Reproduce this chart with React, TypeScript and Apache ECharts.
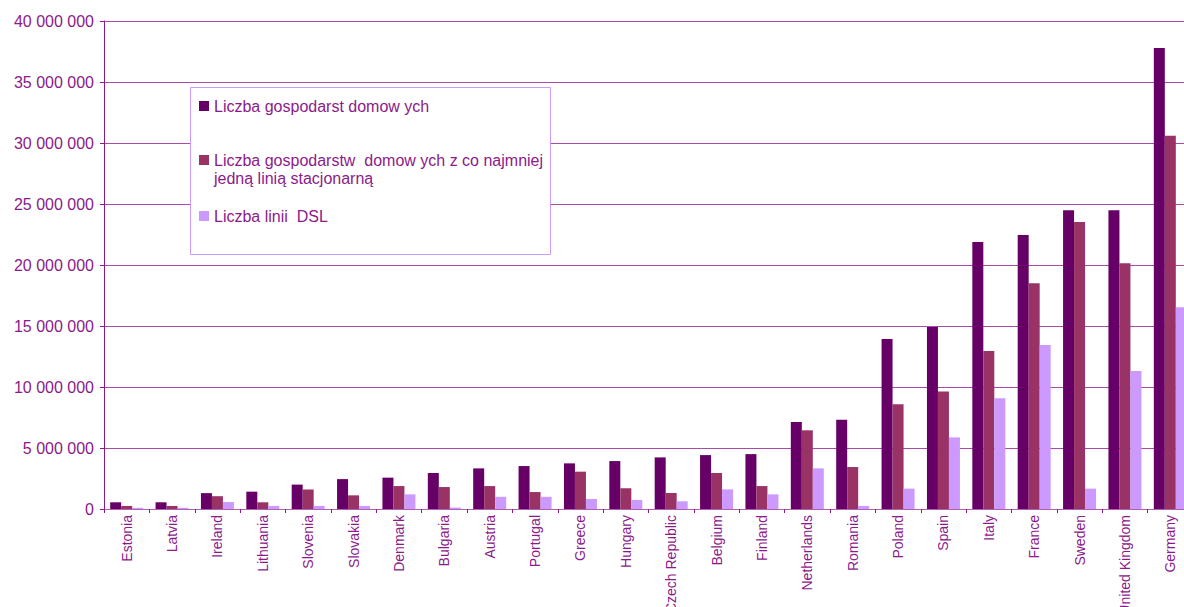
import React, { useEffect, useRef } from "react";
import * as echarts from "echarts";

const countries = [
  "Estonia", "Latvia", "Ireland", "Lithuania", "Slovenia", "Slovakia", "Denmark", "Bulgaria",
  "Austria", "Portugal", "Greece", "Hungary", "Czech Republic", "Belgium", "Finland",
  "Netherlands", "Romania", "Poland", "Spain", "Italy", "France", "Sweden", "United Kingdom", "Germany",
];

const households = [
  550000, 550000, 1300000, 1420000, 2000000, 2450000, 2570000, 2950000,
  3330000, 3520000, 3740000, 3930000, 4230000, 4420000, 4500000,
  7130000, 7320000, 13930000, 14920000, 21890000, 22460000, 24480000, 24480000, 37790000,
];

const householdsFixedLine = [
  250000, 250000, 1050000, 550000, 1600000, 1120000, 1880000, 1800000,
  1880000, 1390000, 3060000, 1700000, 1310000, 2950000, 1880000,
  6450000, 3440000, 8580000, 9640000, 12950000, 18500000, 23520000, 20140000, 30600000,
];

const dslLines = [
  100000, 100000, 570000, 250000, 250000, 250000, 1200000, 120000,
  1000000, 1000000, 820000, 740000, 630000, 1610000, 1200000,
  3330000, 250000, 1670000, 5870000, 9070000, 13440000, 1670000, 11310000, 16530000,
];

const seriesNames = [
  "Liczba gospodarst domow ych",
  "Liczba gospodarstw  domow ych z co najmniej\njedną linią stacjonarną",
  "Liczba linii  DSL",
];

const seriesColors = ["#660066", "#993366", "#CC99FF"];
const textColor = "#8B1A8B";
const gridColor = "#A94BA9";

function formatNum(v: number): string {
  return String(Math.round(v)).replace(/\B(?=(\d{3})+(?!\d))/g, " ");
}

export default function App() {
  const ref = useRef<HTMLDivElement>(null);

  useEffect(() => {
    document.body.style.margin = "0";
    if (!ref.current) return;
    const chart = echarts.init(ref.current, undefined, { renderer: "svg" });
    const dataSets = [households, householdsFixedLine, dslLines];

    const legendY = [106, 160, 216];
    const legendGraphics: any[] = [
      {
        type: "rect",
        shape: { x: 190.5, y: 87.5, width: 360, height: 167 },
        style: { fill: "#ffffff", stroke: "#CC99FF", lineWidth: 1 },
        z: 10,
      },
    ];
    seriesNames.forEach((name, i) => {
      legendGraphics.push({
        type: "rect",
        shape: { x: 199, y: legendY[i] - 5, width: 10, height: 10 },
        style: { fill: seriesColors[i] },
        z: 11,
      });
      legendGraphics.push({
        type: "text",
        x: 214,
        y: legendY[i] - 9,
        style: {
          text: name,
          fill: textColor,
          font: "16px 'Liberation Sans', Arial, sans-serif",
          lineHeight: 18,
          verticalAlign: "top",
        },
        z: 11,
      });
    });

    chart.setOption({
      animation: false,
      backgroundColor: "#ffffff",
      textStyle: { fontFamily: "'Liberation Sans', Arial, sans-serif" },
      grid: { left: 104, top: 21, width: 1089, height: 488, outerBoundsMode: "none", containLabel: false },
      legend: { show: false },
      xAxis: {
        type: "category",
        data: countries,
        axisLine: { lineStyle: { color: "#B060B0", width: 1 } },
        axisTick: { show: true, length: 4, lineStyle: { color: "#8B1A8B" }, alignWithLabel: false },
        axisLabel: {
          rotate: 90,
          interval: 0,
          margin: 6,
          color: textColor,
          fontSize: 14,
          fontFamily: "'Liberation Sans', Arial, sans-serif",
        },
      },
      yAxis: {
        type: "value",
        min: 0,
        max: 40000000,
        interval: 5000000,
        axisLine: { show: true, lineStyle: { color: "#8B1A8B", width: 1 } },
        axisTick: { show: true, length: 4, lineStyle: { color: "#8B1A8B" } },
        splitLine: { show: true, lineStyle: { color: gridColor, width: 1 } },
        axisLabel: {
          color: textColor,
          fontSize: 16,
          margin: 10,
          fontFamily: "'Liberation Sans', Arial, sans-serif",
          formatter: (v: number) => formatNum(v),
        },
      },
      series: seriesNames.map((name, i) => ({
        name,
        type: "bar",
        data: dataSets[i],
        barWidth: 11,
        barGap: "0%",
        itemStyle: { color: seriesColors[i] },
      })),
      graphic: legendGraphics,
    });

    return () => {
      chart.dispose();
    };
  }, []);

  return <div ref={ref} style={{ width: 1184, height: 607, overflow: "hidden" }} />;
}
